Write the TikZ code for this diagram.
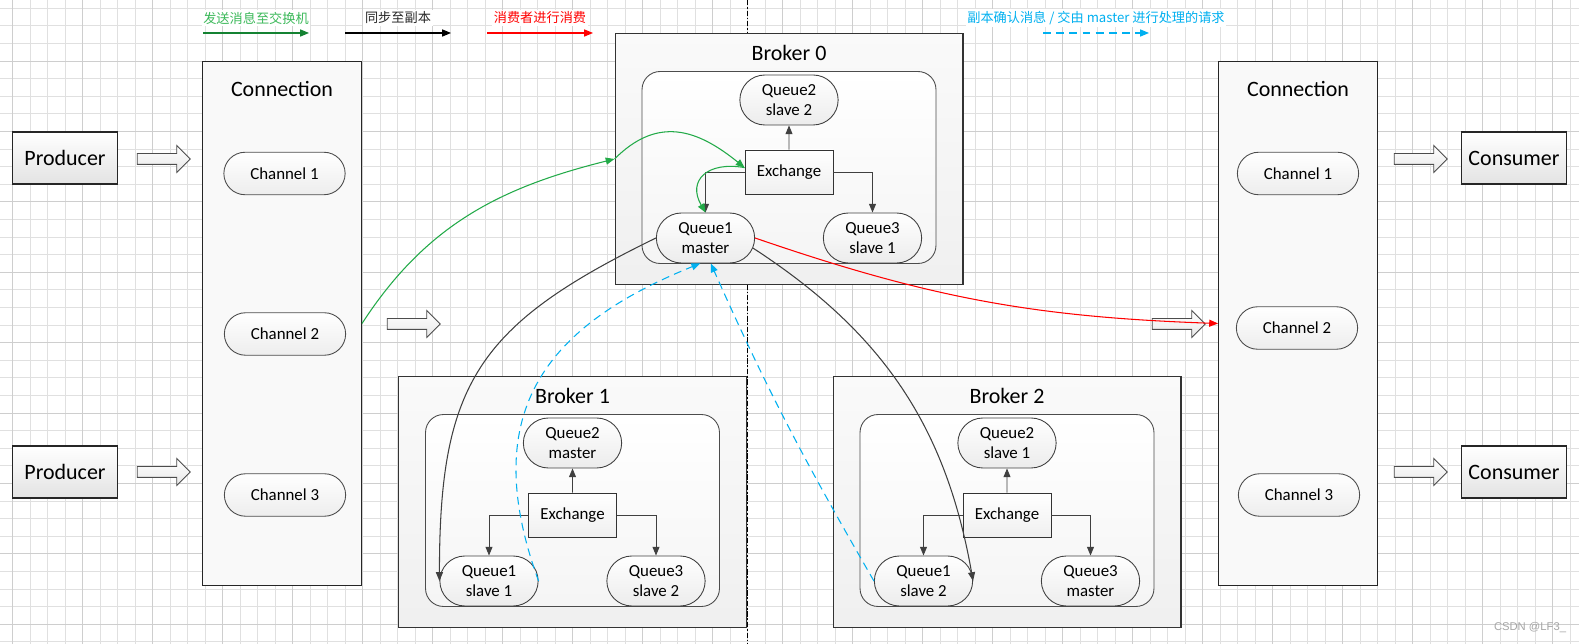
\documentclass[tikz,border=0pt]{standalone}
\usepackage{fontspec}
\setmainfont{Carlito}
\newfontfamily\cjk{Noto Sans CJK SC}
\newfontfamily\wmfont{Liberation Sans}
\usetikzlibrary{positioning,shapes.misc,shapes.arrows,arrows.meta}

\definecolor{flowgreen}{RGB}{34,170,72}
\definecolor{leggreen}{RGB}{20,130,50}
\definecolor{txtgreen}{RGB}{60,185,90}
\definecolor{ackblue}{RGB}{0,176,240}
\definecolor{edgegray}{RGB}{64,64,64}
\definecolor{gridminor}{RGB}{224,224,224}
\definecolor{gridmajor}{RGB}{206,206,206}

\tikzset{
  bigfont/.style={font=\fontsize{12.5}{15}\selectfont},
  smallfont/.style={font=\fontsize{9.6}{11.5}\selectfont},
  legfont/.style={font=\cjk\fontsize{7.5}{9}\selectfont},
  gridline/.style={gridminor, line width=0.5pt},
  gridbold/.style={gridmajor, line width=0.5pt},
  divider/.style={black, line width=0.6pt, dash pattern=on 3pt off 1pt on 1pt off 1pt},
  endbox/.style={draw=black!85, line width=0.6pt, top color=white, bottom color=gray!22,
    minimum width=2.1cm, minimum height=1.04cm, bigfont},
  conbox/.style={draw=black!85, line width=0.6pt, fill=gray!5,
    minimum width=3.18cm, minimum height=10.5cm},
  channel/.style={rounded rectangle, draw=black!70, line width=0.5pt, top color=white,
    bottom color=gray!14, minimum width=2.66cm, minimum height=0.85cm, smallfont},
  hollow/.style={single arrow, draw=black!70, line width=0.5pt, top color=white,
    bottom color=gray!18, single arrow head extend=0.16cm, inner sep=0pt,
    inner ysep=0.1cm, minimum height=1.06cm},
  brokerbox/.style={draw=black!80, line width=0.6pt, top color=gray!4, bottom color=gray!12,
    minimum width=6.96cm, minimum height=5.02cm},
  innerbox/.style={draw=black!70, line width=0.5pt, rounded corners=0.36cm, top color=white,
    bottom color=gray!8, minimum width=5.88cm, minimum height=3.84cm},
  queue/.style={rounded rectangle, draw=black!75, line width=0.5pt, top color=white,
    bottom color=gray!15, minimum width=2.2cm, minimum height=1cm, align=center, smallfont},
  exch/.style={draw=black!80, line width=0.5pt, top color=white, bottom color=gray!12,
    minimum width=1.76cm, minimum height=0.88cm, smallfont},
  tip/.style={-{Triangle[length=5pt,width=4pt]}},
  link/.style={edgegray, line width=0.5pt, tip},
  send/.style={flowgreen, line width=0.6pt, tip},
  sync/.style={edgegray, line width=0.6pt, tip},
  consume/.style={red, line width=0.6pt, tip},
  ack/.style={ackblue, line width=0.6pt, dash pattern=on 4.5pt off 3pt, tip},
  legG/.style={leggreen},
  legK/.style={black},
  legR/.style={red},
  legB/.style={ackblue, dash pattern=on 4.5pt off 3pt},
}

\begin{document}
\begin{tikzpicture}[x=0.02cm, y=0.02cm]
    \useasboundingbox (0,0) rectangle (1579,-644);
    \fill[white] (0,0) rectangle (1579,-644);

    % Background grid
    \foreach \i in {0,...,89}
      \draw[gridline] ({12.7+17.5*\i},0) -- ({12.7+17.5*\i},-644);
    \foreach \j in {0,...,36}
      \draw[gridline] (0,{-8.3-17.6*\j}) -- (1579,{-8.3-17.6*\j});
    \foreach \i in {0,4,...,88}
      \draw[gridbold] ({12.7+17.5*\i},0) -- ({12.7+17.5*\i},-644);
    \foreach \j in {3,7,...,35}
      \draw[gridbold] (0,{-8.3-17.6*\j}) -- (1579,{-8.3-17.6*\j});

    % Divider
    \coordinate (divtop) at (747.5,0);
    \coordinate (divbot) at (747.5,-644);
    \draw[divider] (divtop) -- (divbot);

    % Producers and left connection
    \node[endbox] (prod1) at (65,-158) {Producer};
    \node[endbox] (prod2) at (65,-472) {Producer};
    \node[hollow] (inarr1) at (161,-159) {};
    \node[hollow] (inarr2) at (161,-472) {};
    \node[conbox] (conL) at (282,-323.5) {};
    \node[bigfont] (conLt) at (282,-89) {Connection};
    \node[channel] (ch1L) at (284.5,-173.5) {Channel 1};
    \node[channel] (ch2L) at (285,-334) {Channel 2};
    \node[channel] (ch3L) at (285,-495) {Channel 3};
    \node[hollow] (midarr) at (411,-324) {};

    % Consumers and right connection
    \node[conbox] (conR) at (1298,-323.5) {};
    \node[bigfont] (conRt) at (1298,-89) {Connection};
    \node[channel] (ch1R) at (1298,-173.5) {Channel 1};
    \node[channel] (ch2R) at (1297,-328) {Channel 2};
    \node[channel] (ch3R) at (1299,-495) {Channel 3};
    \node[hollow] (rarr) at (1176,-324) {};
    \node[hollow] (outarr1) at (1418,-159) {};
    \node[hollow] (outarr2) at (1418,-472) {};
    \node[endbox] (cons1) at (1514,-158) {Consumer};
    \node[endbox] (cons2) at (1514,-472) {Consumer};

    % Brokers
    \foreach \b/\cx/\cy/\qa/\qb/\qc in {0/789/-159/master/slave 2/slave 1,
                                        1/572.5/-502/slave 1/master/slave 2,
                                        2/1007/-502/slave 2/slave 1/master} {
      \node[brokerbox] (b\b) at (\cx,\cy) {};
      \node[bigfont] (bl\b) at ({\cx},{\cy+106}) {Broker \b};
      \node[innerbox] (in\b) at ({\cx},{\cy-8.5}) {};
      \node[queue] (q2b\b) at ({\cx},{\cy+59}) {Queue2\\\qb};
      \node[exch] (ex\b) at ({\cx},{\cy-13}) {Exchange};
      \node[queue] (q1b\b) at ({\cx-83.5},{\cy-79}) {Queue1\\\qa};
      \node[queue] (q3b\b) at ({\cx+83.5},{\cy-79}) {Queue3\\\qc};
      \draw[link] (ex\b) -- (q2b\b);
      \draw[link] (ex\b.west) -| (q1b\b);
      \draw[link] (ex\b.east) -| (q3b\b);
    }

    % Message flow
    \draw[send] (conL.east) to[out=57,in=194] (b0.west);
    \draw[send] (b0.west) to[out=45,in=141,looseness=1.2] ([yshift=2.5pt]ex0.west);
    \draw[send] ([yshift=2.5pt]ex0.west) to[out=170,in=120,looseness=1.6] (q1b0.north);
    \draw[sync] (q1b0.west) to[out=206,in=90,looseness=1.25] (q1b1.west);
    \draw[sync] (q1b0.-12) to[out=-33,in=100] (q1b2.east);
    \draw[consume] (q1b0.east) to[out=-19,in=178] (conR.west);
    \draw[ack] (q1b1.east) to[out=110,in=202,looseness=1.25] ([xshift=-3pt]q1b0.south);
    \draw[ack] (q1b2.west) to[out=120,in=-66] ([xshift=3pt]q1b0.south);

    % Legend
    \foreach \n/\x/\tc/\sty/\t in {g/256/txtgreen/legG/{发送消息至交换机},
                                   k/398/black!85/legK/{同步至副本},
                                   r/540/red/legR/{消费者进行消费},
                                   b/1096/ackblue/legB/{副本确认消息 / 交由 master 进行处理的请求}} {
      \node[legfont, text=\tc, fill=white, inner sep=1pt] (leg\n) at (\x,-18) {\t};
      \coordinate (lega\n) at (\x-53,-33);
      \coordinate (legb\n) at (\x+53,-33);
      \draw[line width=0.6pt, tip, \sty] (lega\n) -- (legb\n);
    }

    \node[font=\wmfont\fontsize{6.4}{7}\selectfont, text=gray!70] (wm) at (1530,-628) {CSDN @LF3\_};
\end{tikzpicture}
\end{document}
